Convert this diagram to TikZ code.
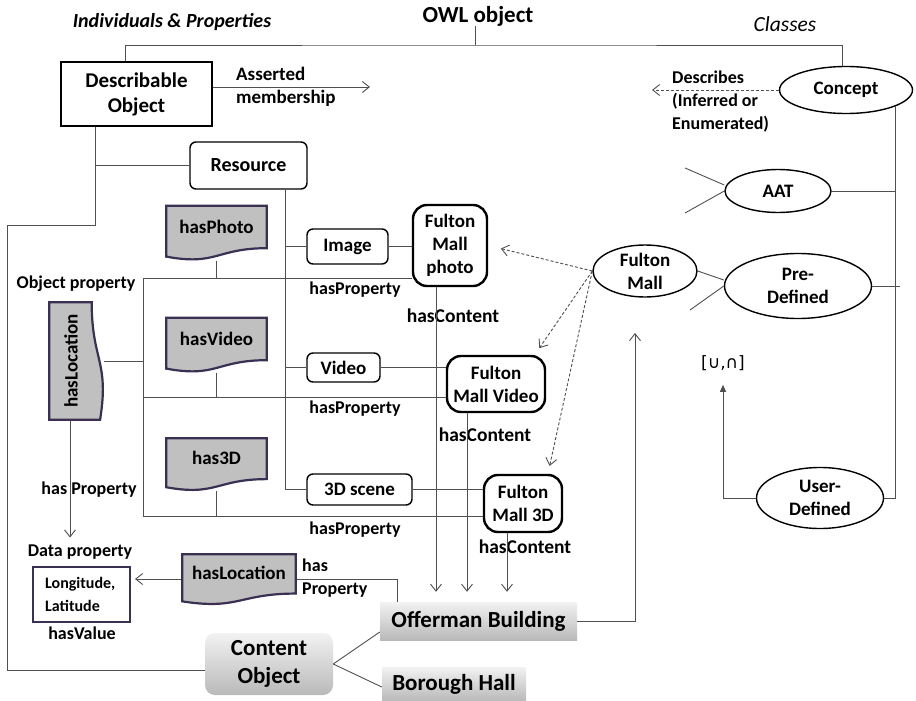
\documentclass[tikz,border=0pt]{standalone}
\usepackage{fontspec}
\setmainfont{Carlito}
\newfontfamily\symfont{DejaVu Sans}
\usepackage{graphicx}
\usetikzlibrary{shapes,calc,arrows.meta}

\definecolor{docgray}{RGB}{192,192,192}
\definecolor{docedge}{RGB}{58,48,82}
\definecolor{linegray}{RGB}{80,80,80}

\begin{document}
\begin{tikzpicture}[x=1pt,y=-1pt]
    \tikzstyle{conn}=[draw=linegray, line width=0.9pt]
    \tikzstyle{arr}=[conn, -{Straight Barb[length=7pt,width=11pt]}]
    \tikzstyle{dasharr}=[arr, dash pattern=on 3pt off 2pt]
    \tikzstyle{farr}=[conn, -{Triangle[length=7pt,width=6pt]}]
    \tikzstyle{txt}=[inner sep=0pt, align=center, font=\fontsize{19}{23}\selectfont\bfseries]
    \tikzstyle{lbl}=[inner sep=0pt, align=center, font=\fontsize{18}{23}\selectfont\bfseries]
    \tikzstyle{sqbox}=[txt, draw, line width=1.4pt]
    \tikzstyle{rbox}=[txt, draw, line width=1.4pt, rounded corners=6pt]
    \tikzstyle{fmbox}=[txt, draw, line width=2.4pt, rounded corners=14pt]
    \tikzstyle{classoval}=[txt, ellipse, draw, line width=1.4pt]
    \tikzstyle{gradbox}=[inner sep=0pt, align=center, font=\fontsize{23}{28}\selectfont\bfseries,
        top color=gray!10, bottom color=gray!55]
    \tikzstyle{docfill}=[fill=docgray, draw=docedge, line width=2.2pt]
    \tikzstyle{docbox}=[txt, text height=13pt, text depth=12pt, path picture={
        \filldraw[docfill] let \p1=(path picture bounding box.south west),
            \p2=(path picture bounding box.north east) in
          (\x1+1.2pt,\y2-1.2pt) -- (\x2-1.2pt,\y2-1.2pt) -- (\x2-1.2pt,{\y2-0.78*(\y2-\y1)})
          .. controls ({0.5*(\x1+\x2)},{\y2-0.78*(\y2-\y1)}) and ({0.5*(\x1+\x2)},{\y2-1.1*(\y2-\y1)})
          .. (\x1+1.2pt,{\y2-0.93*(\y2-\y1)}) -- cycle;}]
    \tikzstyle{docboxv}=[inner sep=0pt, font=\fontsize{19}{23}\selectfont\bfseries, path picture={
        \filldraw[docfill] let \p1=(path picture bounding box.south west),
            \p2=(path picture bounding box.north east) in
          (\x1+1.2pt,\y1+1.2pt) -- (\x1+1.2pt,\y2-1.2pt) -- ({\x1+0.78*(\x2-\x1)},\y2-1.2pt)
          .. controls ({\x1+0.78*(\x2-\x1)},{0.5*(\y1+\y2)}) and ({\x1+1.1*(\x2-\x1)},{0.5*(\y1+\y2)})
          .. ({\x1+0.93*(\x2-\x1)},\y1+1.2pt) -- cycle;}]

    \path[use as bounding box, fill=white] (0,0) rectangle (916,701);

    % headings
    \node[inner sep=0pt, font=\fontsize{20}{24}\selectfont\bfseries\itshape] (indiv) at (172,22) {Individuals \& Properties};
    \node[inner sep=0pt, font=\fontsize{23}{26}\selectfont\bfseries] (owl) at (478,16) {OWL object};
    \node[inner sep=0pt, font=\fontsize{21.5}{24}\selectfont\itshape] (classes) at (785,24) {Classes};

    % individuals and properties
    \node[sqbox, font=\fontsize{21}{25}\selectfont\bfseries, minimum width=151, minimum height=64] (desc) at (136.5,94) {Describable\\Object};
    \node[lbl, font=\fontsize{19}{23}\selectfont\bfseries, align=left, anchor=west] (asserted) at (236,87) {Asserted\\membership};
    \coordinate (assertend) at (370,87);
    \node[rbox, font=\fontsize{20}{23}\selectfont\bfseries, minimum width=117, minimum height=47] (res) at (248.5,165.5) {Resource};

    \node[docbox, minimum width=103, minimum height=56] (hasphoto) at (216.5,232.5) {hasPhoto};
    \node[docbox, minimum width=103, minimum height=56] (hasvideo) at (216.5,344.5) {hasVideo};
    \node[docbox, minimum width=103, minimum height=54] (has3d) at (216.5,464) {has3D};
    \node[docboxv, minimum width=56, minimum height=120] (hasloc) at (76,361) {\rotatebox{90}{hasLocation}\kern10pt};
    \node[lbl] (objprop) at (76,284) {Object property};

    \node[rbox, minimum width=81, minimum height=35] (img) at (347.5,246.5) {Image};
    \node[rbox, minimum width=73, minimum height=29] (video) at (343.5,367.5) {Video};
    \node[rbox, minimum width=105, minimum height=31] (scene) at (359.5,489.5) {3D scene};

    \node[fmbox, minimum width=74, minimum height=81] (fmphoto) at (450,245.5) {Fulton\\Mall\\photo};
    \node[fmbox, minimum width=98, minimum height=56] (fmvideo) at (496,384) {Fulton\\Mall Video};
    \node[fmbox, minimum width=78, minimum height=57] (fm3d) at (523,503.5) {Fulton\\Mall 3D};

    \coordinate (prop1) at (143,278);
    \coordinate (prop2) at (143,397);
    \coordinate (prop3) at (143,516);
    \node[lbl] (hp1) at (355,290) {hasProperty};
    \node[lbl] (hp2) at (355,409) {hasProperty};
    \node[lbl] (hp3) at (355,530) {hasProperty};

    \node[lbl, font=\fontsize{19.5}{23}\selectfont\bfseries] (hc1) at (453,316) {hasContent};
    \node[lbl, font=\fontsize{19.5}{23}\selectfont\bfseries] (hc2) at (485,435) {hasContent};
    \node[lbl, font=\fontsize{19.5}{23}\selectfont\bfseries] (hc3) at (525,547) {hasContent};

    \node[lbl] (hasprop) at (89,490) {has Property};
    \node[lbl] (dataprop) at (80,552) {Data property};
    \node[draw=docedge, line width=2pt, minimum width=97, minimum height=55, inner sep=0pt,
          align=left, font=\fontsize{16}{23}\selectfont\bfseries] (lonlat) at (81.5,594.5) {Longitude,\\Latitude\hspace*{18pt}};
    \node[lbl] (hasval) at (82,633) {hasValue};
    \node[docbox, minimum width=116, minimum height=52] (hasloc2) at (239,579) {hasLocation};
    \node[lbl, align=left, anchor=west] (hasprop2) at (302,578) {has\\Property};

    \node[gradbox, minimum width=197, minimum height=38] (offer) at (478.5,621) {Offerman Building};
    \node[gradbox, minimum width=144, minimum height=34] (borough) at (454,684) {Borough Hall};
    \node[gradbox, rounded corners=10pt, minimum width=128, minimum height=62] (content) at (269,664) {Content\\Object};

    % classes
    \node[classoval, minimum width=133, minimum height=47] (concept) at (846,90) {Concept};
    \node[lbl, align=left, anchor=west] (describes) at (672,102) {Describes\\(Inferred or\\Enumerated)};
    \coordinate (descend) at (652,90);
    \node[classoval, minimum width=106, minimum height=43] (aat) at (778,191) {AAT};
    \node[classoval, minimum width=104, minimum height=52] (fmall) at (645,271) {Fulton\\Mall};
    \node[classoval, minimum width=147, minimum height=65] (predef) at (798,286) {Pre-\\Defined};
    \node[classoval, minimum width=127, minimum height=61] (userdef) at (820,498) {User-\\Defined};
    \node[inner sep=0pt, font=\fontsize{17}{20}\selectfont\symfont] (setops) at (723,363) {[∪,∩]};
    \coordinate (aatA) at (685,168);
    \coordinate (aatB) at (685,213);
    \coordinate (predB) at (690,310);
    \coordinate (upend) at (635,333);
    \coordinate (topbar) at (475,45);

    % connectors
    \draw[conn] (owl.south -| topbar) -- (topbar);
    \draw[conn] ([xshift=-11pt]desc.north) |- (topbar) -| ([xshift=-4pt]concept.north);
    \draw[arr] ([yshift=7pt]desc.east) -- (assertend);
    \draw[conn] ([xshift=-41pt]desc.south) |- (res.west);
    \draw[conn] ([xshift=-41pt]desc.south) -- ++(0,99) -| ++(-88,0) |- ([yshift=-6pt]content.west);
    \draw[conn] ([xshift=36.5pt]res.south) |- (scene.west);
    \draw[conn] ([xshift=36.5pt]res.south) |- (img.west);
    \draw[conn] ([xshift=36.5pt]res.south) |- (video.west);
    \draw[conn] (img.east) -- (img.east -| fmphoto.west);
    \draw[conn] (video.east) -- (video.east -| fmvideo.west);
    \draw[conn] (scene.east) -- (scene.east -| fm3d.west);

    \draw[conn] (hasphoto.south) -- (hasphoto.south |- prop1);
    \draw[conn] (hasvideo.south) -- (hasvideo.south |- prop2);
    \draw[conn] (has3d.south) -- (has3d.south |- prop3);
    \draw[conn] (prop1) -- (prop1 -| fmphoto.west);
    \draw[conn] (prop2) -- (prop2 -| fmvideo.west);
    \draw[conn] (prop3) -- (prop3 -| fm3d.west);
    \draw[conn] (prop1) -- (prop3);
    \draw[conn] (hasloc.east) -- (hasloc.east -| prop1);
    \draw[arr, shorten >=7pt] ([xshift=-6pt]hasloc.south) -- ([xshift=-6pt]hasloc.south |- dataprop.north);

    \draw[arr, shorten >=10pt] ([xshift=-14pt]fmphoto.south) -- ([xshift=-14pt]fmphoto.south |- offer.north);
    \draw[arr, shorten >=10pt] ([xshift=-29pt]fmvideo.south) -- ([xshift=-29pt]fmvideo.south |- offer.north);
    \draw[arr, shorten >=10pt] ([xshift=-16pt]fm3d.south) -- ([xshift=-16pt]fm3d.south |- offer.north);
    \draw[arr] (offer.east) -| (upend);
    \draw[conn] (content.east) -- ([yshift=-11pt]offer.west);
    \draw[conn] (content.east) -- ([yshift=-3pt]borough.west);

    \draw[arr, shorten >=4pt] (hasloc2.west) -- (hasloc2.west -| lonlat.east);
    \draw[conn] (hasloc2.east) -| ([xshift=-81.5pt]offer.north);

    \draw[dasharr, shorten >=13pt] (fmall.west) -- (fmphoto.east);
    \draw[dasharr, shorten >=8pt] (fmall.west) -- (fmvideo.37);
    \draw[dasharr, shorten >=8pt] (fmall.west) -- (fm3d.50);
    \draw[dasharr] (concept.west) -- (descend);

    \draw[conn] (aatA) -- ([yshift=6pt]aat.west);
    \draw[conn] (aatB) -- (aat.west);
    \draw[conn] (fmall.east) -- ([yshift=6pt]predef.west);
    \draw[conn] (predB) -- (predef.west);
    \draw[conn] (concept.-18) |- (userdef.east);
    \draw[conn] (aat.east) -- (aat.east -| concept.-18);
    \draw[conn] (predef.east) -- ([xshift=4pt]predef.east -| concept.-18);
    \draw[farr, shorten >=14pt] (userdef.west) -| (setops.south);
\end{tikzpicture}
\end{document}
